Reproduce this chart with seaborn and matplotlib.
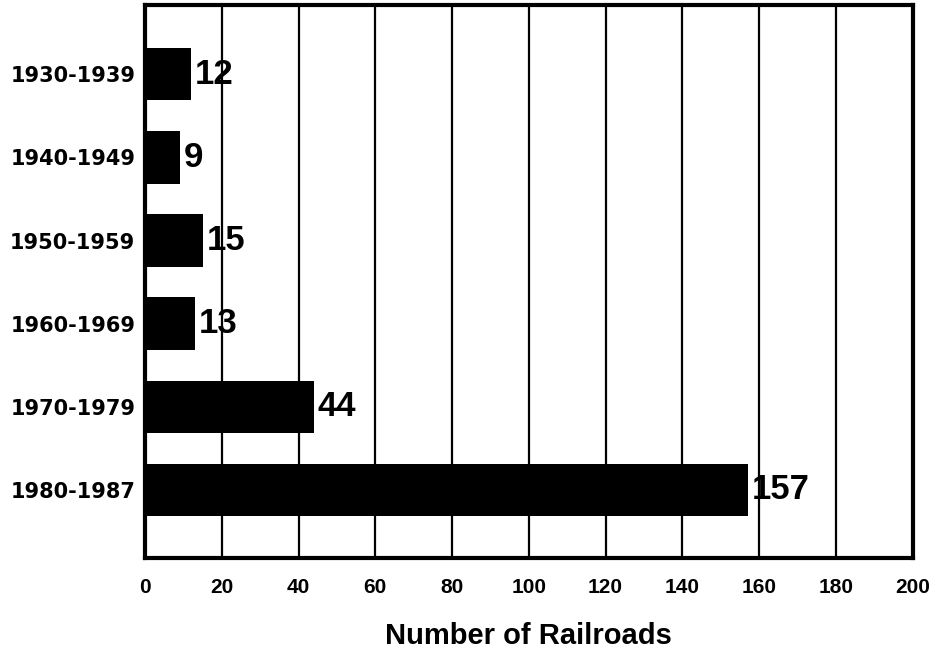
import matplotlib
matplotlib.use('Agg')
import matplotlib.pyplot as plt
import seaborn as sns
import pandas as pd

# data
decades = ['1930-1939', '1940-1949', '1950-1959', '1960-1969', '1970-1979', '1980-1987']
railroads = [12, 9, 15, 13, 44, 157]
x_ticks = [0, 20, 40, 60, 80, 100, 120, 140, 160, 180, 200]

df = pd.DataFrame({'Decade': decades, 'Railroads': railroads})

sns.set_style('white')
plt.rcParams['font.family'] = ['Liberation Sans', 'DejaVu Sans']
plt.rcParams['text.color'] = 'black'
plt.rcParams['xtick.color'] = 'black'
plt.rcParams['ytick.color'] = 'black'
plt.rcParams['axes.labelcolor'] = 'black'

fig = plt.figure(figsize=(9.36, 6.52), dpi=100)
ax = fig.add_axes([0.155, 0.144, 0.82, 0.848])

sns.barplot(data=df, x='Railroads', y='Decade', color='black', width=0.63,
            saturation=1, linewidth=0, ax=ax, zorder=3)

# vertical grid lines
for t in x_ticks[1:-1]:
    ax.axvline(t, color='black', lw=1.6, zorder=1)

ax.set_xlim(0, 200)
ax.set_ylim(5.82, -0.83)
ax.set_xticks(x_ticks)
ax.set_xticklabels([str(t) for t in x_ticks], fontsize=15, fontweight='bold')
ax.set_yticks(range(len(decades)))
ax.set_yticklabels(decades, fontsize=15, fontweight='bold', family='DejaVu Sans')
ax.tick_params(axis='both', length=0)
ax.tick_params(axis='y', pad=7)
ax.tick_params(axis='x', pad=14)

for s in ax.spines.values():
    s.set_linewidth(3)
    s.set_color('black')

for i, v in enumerate(railroads):
    ax.text(v + 1, i, str(v), va='center', ha='left', fontsize=25,
            fontweight='bold', color='black', zorder=4)

ax.set_ylabel('')
ax.set_xlabel('Number of Railroads', fontsize=21, fontweight='bold', labelpad=18)

fig.savefig('out.png', dpi=100)
